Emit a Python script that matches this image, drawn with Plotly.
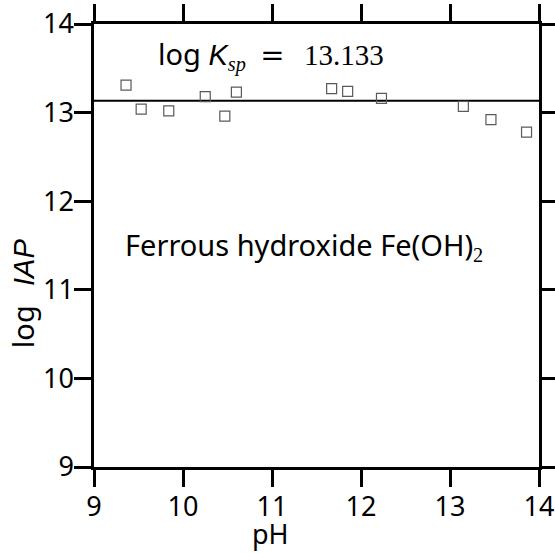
import plotly.graph_objects as go

ph = [9.36, 9.53, 9.84, 10.25, 10.47, 10.60, 11.67, 11.85, 12.23, 13.15, 13.46, 13.86]
log_iap = [13.31, 13.04, 13.02, 13.18, 12.96, 13.23, 13.27, 13.24, 13.16, 13.07, 12.92, 12.78]
log_ksp = 13.133
x_range = [9, 14]
y_range = [9, 14]
tick_vals = [9, 10, 11, 12, 13, 14]

FONT = "Noto Sans"
ITAL = "Liberation Sans"
SERIF = "Liberation Serif"

fig = go.Figure()
fig.add_trace(go.Scatter(
    x=x_range, y=[log_ksp, log_ksp], mode="lines",
    line=dict(color="black", width=2), showlegend=False, hoverinfo="skip"))
fig.add_trace(go.Scatter(
    x=ph, y=log_iap, mode="markers",
    marker=dict(symbol="square-open", size=10, color="#5a5a5a", line=dict(width=1.2, color="#5a5a5a")),
    showlegend=False))

axis_common = dict(
    showline=True, linecolor="black", linewidth=2.5, mirror="ticks",
    ticks="outside", ticklen=17, tickwidth=2.5, tickcolor="black",
    showgrid=False, zeroline=False, tickvals=tick_vals, automargin=False,
    ticklabeloverflow="allow",
    tickfont=dict(family=FONT, size=27, color="black"),
)
fig.update_xaxes(range=x_range, ticklabelstandoff=-3, **axis_common)
fig.update_yaxes(range=y_range, ticklabelstandoff=-5, **axis_common)

ksp_text = ("log <i><span style='font-family:%s'>K</span></i>"
            "<sub><span style='font-family:%s'><i>sp</i></span></sub>"
            "\u2002<span style='font-family:DejaVu Serif'>=</span>\u2002\u2009"
            "<span style='font-family:%s'>%s</span>") % (ITAL, SERIF, SERIF, "13.133")
fig.add_annotation(
    text=ksp_text, xref="paper", yref="paper", x=0.398, y=0.93,
    xanchor="center", yanchor="middle", showarrow=False,
    font=dict(family=FONT, size=29, color="black"))
fig.add_annotation(
    text="Ferrous hydroxide Fe(OH)<sub><span style='font-family:%s'>2</span></sub>" % SERIF,
    xref="paper", yref="paper", x=0.472, y=0.50,
    xanchor="center", yanchor="middle", showarrow=False,
    font=dict(family=FONT, size=29, color="black"))
fig.add_annotation(
    text="pH", xref="paper", yref="paper", x=0.397, y=-0.150,
    xanchor="center", yanchor="middle", showarrow=False,
    font=dict(family=FONT, size=27, color="black"))
fig.add_annotation(
    text="log\u2002\u2009<i><span style='font-family:%s'>IAP</span></i>" % ITAL,
    xref="paper", yref="paper", x=-0.160, y=0.392,
    xanchor="center", yanchor="middle", textangle=-90, showarrow=False,
    font=dict(family=FONT, size=29, color="black"))

fig.update_layout(
    width=555, height=553,
    margin=dict(l=94, r=16, t=24, b=86),
    plot_bgcolor="white", paper_bgcolor="white",
)
fig.write_html("out.html", config={"displayModeBar": False},
               post_script="document.body.style.margin='0px';")
